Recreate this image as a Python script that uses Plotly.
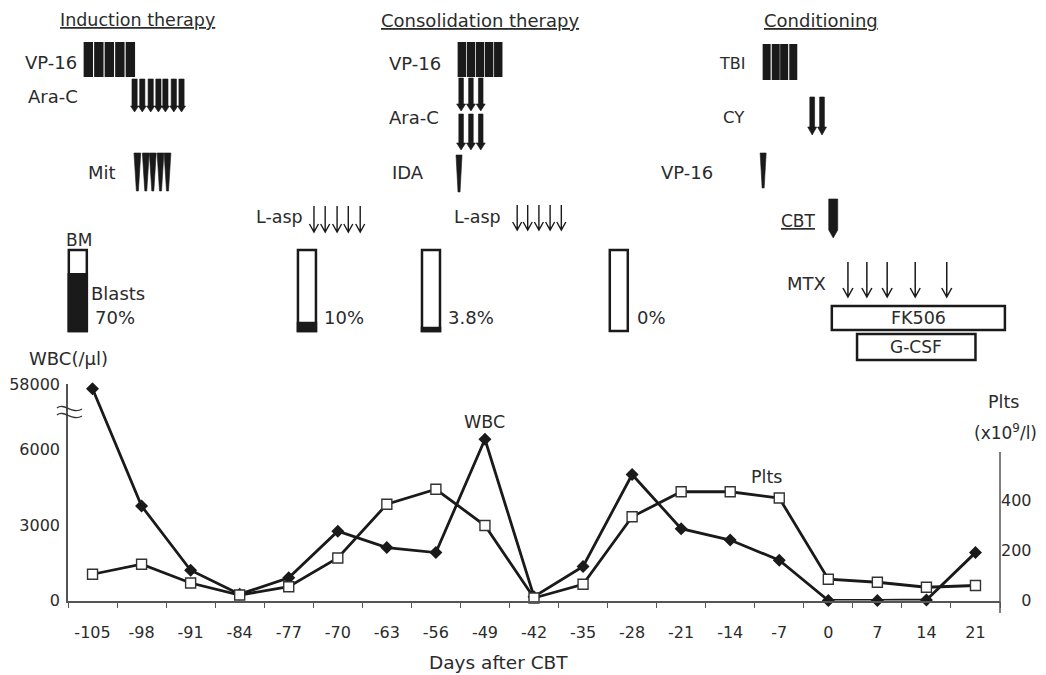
import plotly.graph_objects as go

# ---------------- data ----------------
days = [-105, -98, -91, -84, -77, -70, -63, -56, -49, -42, -35, -28, -21, -14, -7, 0, 7, 14, 21]
wbc = [52000, 3750, 1200, 250, 900, 2750, 2100, 1900, 6400, 150, 1350, 5000, 2850, 2400, 1600, 0, 0, 20, 1900]
plts = [105, 145, 70, 22, 55, 170, 385, 445, 300, 10, 65, 335, 435, 435, 410, 85, 73, 53, 60]
wbc_tickvals = [0, 3000, 6000, 58000]
plt_tickvals = [0, 200, 400]

# bone-marrow blasts (day of exam, % blasts)
bm_days = [-107.1, -74.4, -56.7, -29.9]
bm_blasts = [70, 10, 3.8, 0]

# treatment schedule (days after CBT)
ind_vp16 = [-105.6, -104.1, -102.6, -101.1, -99.6]
ind_arac = [-99.0, -97.9, -96.7, -95.6, -94.6, -93.4, -92.3]
ind_mit = [-98.6, -97.4, -96.4, -95.3, -94.3]
ind_lasp = [-73.4, -71.8, -70.1, -68.5, -66.8]
con_vp16 = [-52.3, -51.0, -49.7, -48.4, -47.1]
con_arac = [-52.4, -51.0, -49.6]
con_ida = [-52.7]
con_lasp = [-44.4, -42.9, -41.3, -39.7, -38.1]
cnd_tbi = [-8.8, -7.5, -6.3, -5.0]
cnd_cy = [-2.3, -0.9]
cnd_vp16 = [-9.3]
cbt_day = [0.7]
mtx_days = [2.8, 5.5, 8.4, 12.4, 16.9]
fk506_span = [0.5, 25.2]
gcsf_span = [4.1, 21.0]

# ---------------- geometry ----------------
W, H = 1046, 675
XL, XR = 68, 1000
XRANGE = [-108.5, 24.5]
Y0, YTOP = 600.5, 384
Y2TOP = 452
BREAK_LO, BREAK_HI = 7000, 58000
WBC_TOP = 8591
PLT_TOP = (Y0 - YTOP) / 0.25


def wbc_disp(v):
    if v <= BREAK_LO:
        return v
    return BREAK_LO + (v - BREAK_LO) * (WBC_TOP - BREAK_LO) / (BREAK_HI - BREAK_LO)


def X(px):
    return px / W


def Y(py):
    return 1 - py / H


def dpx(d):
    return XL + (XR - XL) * (d - XRANGE[0]) / (XRANGE[1] - XRANGE[0])


FONT = "'DejaVu Sans', sans-serif"
INK = "#1a1a1a"
TXT = "#2b2b2b"

fig = go.Figure()
fig.add_trace(go.Scatter(
    x=days, y=[wbc_disp(v) for v in wbc], mode="lines+markers", name="WBC",
    line=dict(color=INK, width=2.8),
    marker=dict(symbol="diamond", size=10, color=INK), cliponaxis=False))
fig.add_trace(go.Scatter(
    x=days, y=plts, yaxis="y2", mode="lines+markers", name="Plts",
    line=dict(color=INK, width=2.8),
    marker=dict(symbol="square", size=10, color="white", line=dict(color="#333", width=1.4)),
    cliponaxis=False))

shapes = []
ann = []


def poly(pts, fill=INK):
    path = "M " + " L ".join(f"{X(x):.5f},{Y(y):.5f}" for x, y in pts) + " Z"
    shapes.append(dict(type="path", xref="paper", yref="paper", path=path,
                       fillcolor=fill, line=dict(width=0.6, color=fill)))


def rect(x0, x1, y0, y1, fill=INK, lw=0, lc=INK):
    shapes.append(dict(type="rect", xref="paper", yref="paper",
                       x0=X(x0), x1=X(x1), y0=Y(y1), y1=Y(y0),
                       fillcolor=fill, line=dict(width=lw, color=lc)))


def thick_arrow(cx, top, bottom, sw, hw, hh):
    hy = bottom - hh
    poly([(cx - sw / 2, top), (cx + sw / 2, top), (cx + sw / 2, hy), (cx + hw / 2, hy),
          (cx, bottom), (cx - hw / 2, hy), (cx - sw / 2, hy)])


def wedge(cx, top, bottom, tw, bw):
    poly([(cx - tw / 2, top), (cx + tw / 2, top), (cx + bw / 2, bottom), (cx - bw / 2, bottom)])


def thin_arrow(cx, top, bottom, hw, hh, lw=1.4):
    p = (f"M {X(cx):.5f},{Y(top):.5f} L {X(cx):.5f},{Y(bottom):.5f} "
         f"M {X(cx - hw):.5f},{Y(bottom - hh):.5f} L {X(cx):.5f},{Y(bottom):.5f} "
         f"L {X(cx + hw):.5f},{Y(bottom - hh):.5f}")
    shapes.append(dict(type="path", xref="paper", yref="paper", path=p,
                       fillcolor="rgba(0,0,0,0)", line=dict(width=lw, color=INK)))


def label(text, px, py, anchor="right", size=17, color=TXT):
    ann.append(dict(text=text, x=X(px), y=Y(py), xref="paper", yref="paper",
                    xanchor=anchor, yanchor="middle", showarrow=False,
                    font=dict(family=FONT, size=size, color=color)))


# ---- Induction ----
label("<u>Induction therapy</u>", 137, 20, "center", 17.5)
label("VP-16", 79, 62, size=18)
for d in ind_vp16:
    c = dpx(d)
    rect(c - 4.7, c + 4.7, 42, 77)
label("Ara-C", 80, 97, size=18)
for d in ind_arac:
    thick_arrow(dpx(d), 79, 112, 5.2, 8, 6)
label("Mit", 118, 172, size=18)
for d in ind_mit:
    wedge(dpx(d), 153, 191, 6.8, 2)
label("L-asp", 305, 217, size=17.5)
for d in ind_lasp:
    thin_arrow(dpx(d), 206, 232, 4.5, 8)

# ---- Consolidation ----
label("<u>Consolidation therapy</u>", 480, 20, "center", 18)
label("VP-16", 443, 63, size=18)
for d in con_vp16:
    c = dpx(d)
    rect(c - 4.2, c + 4.2, 42, 77)
label("Ara-C", 441, 117, size=18)
for d in con_arac:
    thick_arrow(dpx(d), 78, 111, 4.6, 9, 7)
    thick_arrow(dpx(d), 114, 150, 4.6, 9, 7)
label("IDA", 426, 173, size=18)
for d in con_ida:
    wedge(dpx(d), 155, 192, 6, 2)
label("L-asp", 503, 217, size=17.5)
for d in con_lasp:
    thin_arrow(dpx(d), 205, 230, 4.5, 8)

# ---- Conditioning ----
label("<u>Conditioning</u>", 821, 21, "center", 18)
label("TBI", 747, 63, size=16)
for d in cnd_tbi:
    c = dpx(d)
    rect(c - 4, c + 4, 44, 80)
label("CY", 747, 117, size=16.5)
for d in cnd_cy:
    thick_arrow(dpx(d), 97, 135, 4.8, 9, 8)
label("VP-16", 715, 172, size=18)
for d in cnd_vp16:
    wedge(dpx(d), 153, 188, 6, 2)
label("<u>CBT</u>", 818, 221, size=17)
for d in cbt_day:
    c = dpx(d)
    poly([(c - 4.5, 199), (c + 4.5, 199), (c + 4.5, 230), (c + 4.5, 230), (c, 238),
          (c - 4.5, 230)])
label("MTX", 828, 283, size=18)
for d in mtx_days:
    thin_arrow(dpx(d), 262, 297, 5, 9, 1.5)
rect(dpx(fk506_span[0]), dpx(fk506_span[1]), 306, 330, fill="white", lw=2.5)
label("FK506", (dpx(fk506_span[0]) + dpx(fk506_span[1])) / 2, 318, "center", 17.5)
rect(dpx(gcsf_span[0]), dpx(gcsf_span[1]), 334, 360, fill="white", lw=2.5)
label("G-CSF", (dpx(gcsf_span[0]) + dpx(gcsf_span[1])) / 2, 347, "center", 17)

# ---- bone marrow blast bars ----
BT, BB = 250, 331
label("BM", 79, 240, "center", 17)
for d, b in zip(bm_days, bm_blasts):
    c = dpx(d)
    rect(c - 9, c + 9, BT, BB, fill="white", lw=2.5)
    if b > 0:
        rect(c - 9, c + 9, BB - (BB - BT) * b / 100, BB, fill=INK, lw=2.5)
label("Blasts", 89, 293, "left", 18)
bm_label_x = [93, 322, 446, 635]
for lx, b in zip(bm_label_x, bm_blasts):
    label(f"{b:g}%", lx, 318, "left", 18)

# ---- chart annotations ----
label("WBC(/µl)", 68, 358, "center", 18)
label("WBC", dpx(-49), 422, "center", 17.5)
label("Plts", 766, 477, "center", 17.5)
label("Plts", 1003, 402, "center", 17.5)
label("(x10<sup>9</sup>/l)", 972, 432, "left", 17)

# right axis line (custom extent)
shapes.append(dict(type="line", xref="paper", yref="paper", x0=X(XR), x1=X(XR),
                   y0=Y(Y2TOP), y1=Y(613), line=dict(color="#555", width=1.5)))
# axis break marks
for off in (0, 7):
    y = 408 + off
    p = (f"M {X(57):.5f},{Y(y):.5f} C {X(64):.5f},{Y(y - 6):.5f} "
         f"{X(72):.5f},{Y(y + 7):.5f} {X(82):.5f},{Y(y + 1):.5f}")
    shapes.append(dict(type="path", xref="paper", yref="paper", path=p,
                       fillcolor="rgba(0,0,0,0)", line=dict(color="#333", width=1.4)))

fig.update_layout(
    width=W, height=H, margin=dict(l=0, r=0, t=0, b=0),
    paper_bgcolor="white", plot_bgcolor="white", showlegend=False,
    font=dict(family=FONT, size=16, color=TXT),
    shapes=shapes, annotations=ann + [dict(
        text="Days after CBT", x=X(498), y=Y(662), xref="paper", yref="paper",
        xanchor="center", yanchor="middle", showarrow=False,
        font=dict(family=FONT, size=18.5, color=TXT))],
    xaxis=dict(domain=[X(XL), X(XR)], range=XRANGE, tickmode="array",
               tickvals=days, ticktext=[str(d) for d in days], ticks="",
               ticklabelstandoff=17, tickfont=dict(size=16), automargin=False,
               showline=True, linecolor="#555", linewidth=1.5,
               showgrid=False, zeroline=False,
               minor=dict(tickmode="array",
                          tickvals=[d - 3.5 for d in days] + [days[-1] + 3.5],
                          ticks="outside", ticklen=6, tickcolor="#555", tickwidth=1.2,
                          showgrid=False)),
    yaxis=dict(domain=[Y(Y0), Y(YTOP)], range=[0, WBC_TOP], tickmode="array",
               tickvals=[wbc_disp(v) for v in wbc_tickvals],
               ticktext=[str(v) for v in wbc_tickvals], ticks="",
               ticklabelstandoff=3, automargin=False,
               showline=True, linecolor="#555", linewidth=1.5,
               showgrid=False, zeroline=False, tickfont=dict(size=16)),
    yaxis2=dict(overlaying="y", side="right", range=[0, PLT_TOP], tickmode="array",
                tickvals=plt_tickvals, automargin=False,
                ticktext=[("\u2007" * (3 - len(str(v)))) + str(v) for v in plt_tickvals],
                ticks="", showline=False, showgrid=False, zeroline=False,
                tickfont=dict(size=16)),
)

fig.write_html("out.html", config={"displayModeBar": False},
               post_script="document.body.style.margin='0';"
                           "document.body.style.overflow='hidden';")
